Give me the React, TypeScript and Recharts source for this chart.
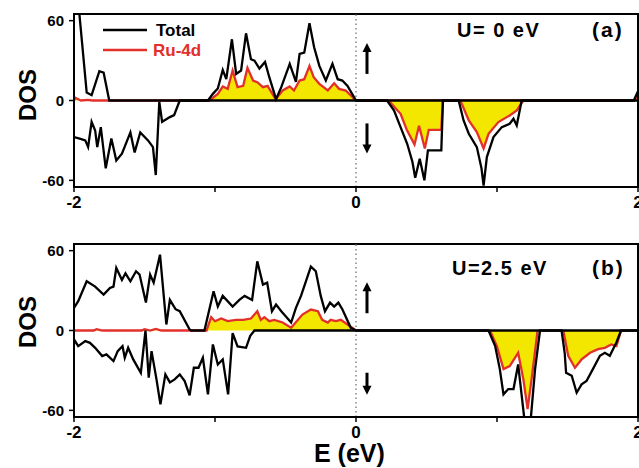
import * as React from 'react';
import {
  ComposedChart,
  Line,
  Area,
  XAxis,
  YAxis,
  ReferenceLine,
  ReferenceArea,
  ReferenceDot,
} from 'recharts';

type Pt = [number, number | null];

// panel (a), U = 0 eV
const totalUpA: Pt[] = [
  [-2.0, 80], [-1.975, 80], [-1.91, 6], [-1.875, 4], [-1.82, 22], [-1.79, 21], [-1.75, 0],
  [-1.05, 0], [-1.015, 5], [-0.98, 9], [-0.945, 23], [-0.92, 16], [-0.88, 46], [-0.85, 20],
  [-0.815, 22.5], [-0.78, 50.5], [-0.745, 31], [-0.72, 30], [-0.685, 24], [-0.645, 29],
  [-0.615, 17.5], [-0.567, 1], [-0.53, 10], [-0.47, 27.5], [-0.426, 14], [-0.4, 35],
  [-0.367, 36], [-0.33, 58], [-0.297, 40], [-0.26, 26], [-0.214, 15], [-0.167, 27.5],
  [-0.13, 16], [-0.097, 15], [-0.06, 11], [0, 0], [1.97, 0], [2.0, 7],
];
const ruUpA: Pt[] = [
  [-2.0, 0], [-1.99, 2], [-1.97, 1], [-1.95, 0], [-1.9, 0.5], [-1.87, 0], [-1.04, 0],
  [-0.98, 5], [-0.945, 10.5], [-0.91, 8.75], [-0.875, 22.5], [-0.84, 10], [-0.8, 11],
  [-0.77, 24.5], [-0.73, 15], [-0.7, 13.75], [-0.66, 10], [-0.627, 11], [-0.57, 1],
  [-0.52, 7.5], [-0.47, 10.5], [-0.44, 7.5], [-0.4, 15], [-0.367, 16], [-0.33, 26],
  [-0.3, 17.5], [-0.26, 12.5], [-0.2, 7.5], [-0.155, 13], [-0.12, 8.75], [-0.073, 7.5],
  [0, 0], [1.975, 0], [2.0, 5],
];
const totalDnA: Pt[] = [
  [-2.0, -27.5], [-1.96, -28.7], [-1.92, -30], [-1.9, -35], [-1.875, -16], [-1.85, -22.5],
  [-1.835, -35], [-1.81, -20], [-1.775, -51], [-1.735, -28.5], [-1.7, -45], [-1.66, -40],
  [-1.6, -24], [-1.57, -39], [-1.53, -24], [-1.475, -30], [-1.44, -35], [-1.42, -56],
  [-1.395, -1], [-1.375, -16], [-1.32, -12.5], [-1.29, -11], [-1.25, 0],
  [0.22, 0], [0.27, -7.5], [0.316, -20], [0.363, -32.5], [0.4, -46], [0.42, -58],
  [0.452, -43.75], [0.485, -60], [0.51, -37.5], [0.605, -37.5], [0.617, 0],
  [0.728, 0], [0.763, -15], [0.8, -25], [0.857, -35], [0.89, -51], [0.905, -64],
  [0.928, -42.5], [0.975, -27.5], [1.034, -20], [1.09, -17.5], [1.117, -13.75],
  [1.14, -18.75], [1.175, 0], [2.0, 0],
];
const ruDnA: Pt[] = [
  [0, 0], [0.23, 0], [0.316, -10], [0.36, -22], [0.415, -33], [0.447, -19], [0.488, -36],
  [0.516, -22], [0.605, -22], [0.615, 0], [0.74, 0], [0.8, -15], [0.857, -23.75],
  [0.905, -36], [0.94, -25], [1.01, -16.25], [1.09, -11.25], [1.14, -7.5], [1.187, 0],
  [1.975, 0],
];

// panel (b), U = 2.5 eV
const totalUpB: Pt[] = [
  [-2.0, 17], [-1.97, 22], [-1.91, 37], [-1.85, 33], [-1.79, 27], [-1.745, 32], [-1.72, 33],
  [-1.7, 47], [-1.66, 38], [-1.635, 43], [-1.6, 37], [-1.56, 44.5], [-1.535, 42],
  [-1.49, 21], [-1.46, 42], [-1.435, 36], [-1.39, 57], [-1.345, 4.5], [-1.32, 23],
  [-1.28, 16], [-1.25, 14.5], [-1.18, 0.75], [-1.17, 0], [-1.075, 0], [-1.01, 29.5],
  [-0.98, 18], [-0.945, 26], [-0.875, 18], [-0.827, 23], [-0.79, 26], [-0.737, 23],
  [-0.7, 52], [-0.66, 34.5], [-0.63, 36], [-0.596, 14.5], [-0.567, 19.5], [-0.53, 14.5],
  [-0.46, 6], [-0.426, 17], [-0.39, 26], [-0.32, 48], [-0.285, 44.5], [-0.25, 26],
  [-0.22, 14.5], [-0.184, 21], [-0.155, 18], [-0.125, 21], [-0.097, 16], [-0.037, 2],
  [0, 0], [2.0, 0],
];
const ruUpB: Pt[] = [
  [-2.0, 0], [-1.86, 0], [-1.84, 1], [-1.8, 0], [-1.52, 0], [-1.5, 1], [-1.46, 0],
  [-1.42, 1.2], [-1.38, 0], [-1.06, 0], [-1.027, 10], [-1.0, 7], [-0.956, 9], [-0.91, 7],
  [-0.85, 8], [-0.8, 8], [-0.745, 9], [-0.7, 14.5], [-0.675, 8], [-0.65, 10], [-0.615, 7],
  [-0.58, 8], [-0.52, 6], [-0.46, 2], [-0.38, 12], [-0.32, 15.75], [-0.27, 14.5],
  [-0.24, 8], [-0.2, 6], [-0.18, 8], [-0.143, 7], [-0.108, 8], [-0.06, 4.5], [0, 0],
];
const totalDnB: Pt[] = [
  [-2.0, -6.75], [-1.97, -11.75], [-1.92, -8], [-1.887, -9.25], [-1.85, -13], [-1.8, -19.25],
  [-1.77, -18], [-1.72, -23], [-1.69, -15.5], [-1.656, -11.75], [-1.64, -20.5],
  [-1.616, -13], [-1.58, -21.75], [-1.526, -31.75], [-1.493, 0], [-1.47, -35.5],
  [-1.45, -15.5], [-1.415, -36.75], [-1.387, -55.5], [-1.352, -33], [-1.32, -39],
  [-1.286, -36.75], [-1.25, -33], [-1.215, -38], [-1.18, -48.75], [-1.15, -28],
  [-1.117, -28], [-1.086, -20.5], [-1.05, -48], [-1.015, -10.5], [-0.98, -25.5],
  [-0.945, -21.75], [-0.907, -48], [-0.875, -2], [-0.84, -12], [-0.78, -13], [-0.75, -4],
  [-0.72, 0], [0.94, 0], [0.987, -11.75], [1.02, -29], [1.046, -48], [1.08, -44],
  [1.117, -44], [1.15, -25.5], [1.2, -72], [1.235, -72], [1.27, -29], [1.305, 0],
  [1.458, 0], [1.48, -16.75], [1.49, -31.75], [1.53, -34], [1.565, -46.75], [1.6, -40.5],
  [1.635, -38], [1.68, -29], [1.73, -19], [1.765, -16.75], [1.8, -19], [1.823, -14],
  [1.847, -9], [1.88, 0], [2.0, 0],
];
const ruDnB: Pt[] = [
  [0.95, 0], [0.999, -11.75], [1.046, -29], [1.09, -26.75], [1.15, -16.75], [1.187, -36.75],
  [1.217, -59], [1.245, -36.75], [1.288, 0], [1.38, null], [1.47, 0], [1.505, -19],
  [1.553, -28], [1.6, -21.75], [1.66, -16.75], [1.717, -14], [1.765, -13], [1.81, -10.5],
  [1.847, -11.75], [1.88, 0],
];

const xTicks = [-2, -1, 0, 1, 2];
const yTicks = [-60, 0, 60];

const FONT = 'Arial, "Liberation Sans", sans-serif';
const RED = '#e3302a';
const YELLOW = '#f3e700';

const toPts = (a: Pt[]) => a.map(([e, v]) => ({ e, v }));

function Arrow(props: any) {
  const { cx, cy, dir, len } = props;
  const h = len / 2;
  const s = dir === 'up' ? -1 : 1;
  return (
    <g>
      <rect x={cx - 1.5} y={Math.min(cy - s * h, cy + s * (h - 8))} width={3} height={len - 7} fill="#000" />
      <polygon
        points={`${cx},${cy + s * h} ${cx - 4.5},${cy + s * (h - 9)} ${cx + 4.5},${cy + s * (h - 9)}`}
        fill="#000"
      />
    </g>
  );
}

interface PanelProps {
  height: number;
  margin: { top: number; right: number; bottom: number; left: number };
  totalUp: Pt[];
  totalDn: Pt[];
  ruUp: Pt[];
  ruDn: Pt[];
  arrows: { y: number; dir: string; len: number }[];
  children?: React.ReactNode;
}

function Panel({ height, margin, totalUp, totalDn, ruUp, ruDn, arrows, children }: PanelProps) {
  return (
    <ComposedChart width={639} height={height} margin={margin}>
      <XAxis
        type="number"
        dataKey="e"
        domain={[-2, 2]}
        ticks={xTicks}
        interval={0}
        allowDataOverflow
        tickFormatter={(v: number) => (v === -1 || v === 1 ? '' : String(v))}
        axisLine={{ stroke: '#000', strokeWidth: 2 }}
        tickLine={{ stroke: '#000', strokeWidth: 1.5 }}
        tickSize={5}
        tickMargin={4}
        height={25}
        tick={{ fontSize: 17, fontWeight: 'bold', fill: '#000', fontFamily: FONT }}
      />
      <YAxis
        type="number"
        domain={[-65, 65]}
        ticks={yTicks}
        interval={0}
        allowDataOverflow
        axisLine={{ stroke: '#000', strokeWidth: 2 }}
        tickLine={{ stroke: '#000', strokeWidth: 1.5 }}
        tickSize={5}
        tickMargin={5}
        width={50}
        tick={{ fontSize: 15, fontWeight: 'bold', fill: '#000', fontFamily: FONT }}
      />
      <ReferenceLine x={0} stroke="#888" strokeWidth={1.5} strokeDasharray="1.5 3" />
      <Line data={toPts(totalUp)} dataKey="v" type="linear" stroke="#000" strokeWidth={2.3}
        dot={false} isAnimationActive={false} />
      <Line data={toPts(totalDn)} dataKey="v" type="linear" stroke="#000" strokeWidth={2.3}
        dot={false} isAnimationActive={false} />
      <Area data={toPts(ruUp)} dataKey="v" type="linear" stroke={RED} strokeWidth={2.3}
        fill={YELLOW} fillOpacity={1} baseValue={0} dot={false} isAnimationActive={false} />
      <Area data={toPts(ruDn)} dataKey="v" type="linear" stroke={RED} strokeWidth={2.3}
        fill={YELLOW} fillOpacity={1} baseValue={0} dot={false} isAnimationActive={false} />
      <ReferenceArea x1={-2} x2={2} y1={-65} y2={65} fill="none" fillOpacity={0}
        stroke="#000" strokeWidth={2} />
      {arrows.map((a, i) => (
        <ReferenceDot key={i} x={0.078} y={a.y} r={0}
          shape={(p: any) => <Arrow cx={p.cx} cy={p.cy} dir={a.dir} len={a.len} />} />
      ))}
      {children}
    </ComposedChart>
  );
}

const bold = { fontFamily: FONT, fontWeight: 'bold' as const };

export default function App() {
  return (
    <div style={{ position: 'absolute', left: 0, top: 0, width: 639, height: 468, background: '#fff' }}>
      <Panel
        height={220}
        margin={{ top: 14, right: 1, bottom: 8, left: 24 }}
        totalUp={totalUpA}
        totalDn={totalDnA}
        ruUp={ruUpA}
        ruDn={ruDnA}
        arrows={[{ y: 32, dir: 'up', len: 30 }, { y: -28.5, dir: 'down', len: 30 }]}
      >
        <text x={27} y={95} transform="rotate(-90 27 95)" textAnchor="middle"
          dominantBaseline="central" fontSize={24} {...bold}>DOS</text>
        <line x1={103} x2={147} y1={30} y2={30} stroke="#000" strokeWidth={2.5} />
        <text x={156} y={36} fontSize={17} fill="#000" {...bold}>Total</text>
        <line x1={103} x2={147} y1={50} y2={50} stroke={RED} strokeWidth={2.5} />
        <text x={153} y={56} fontSize={17} fill={RED} {...bold}>Ru-4d</text>
        <text x={457} y={37} fontSize={20} letterSpacing={1.5} {...bold}>U= 0 eV</text>
        <text x={592} y={37} fontSize={21} letterSpacing={2} {...bold}>(a)</text>
      </Panel>
      <div style={{ position: 'absolute', left: 0, top: 220 }}>
        <Panel
          height={248}
          margin={{ top: 24, right: 1, bottom: 26, left: 24 }}
          totalUp={totalUpB}
          totalDn={totalDnB}
          ruUp={ruUpB}
          ruDn={ruDnB}
          arrows={[{ y: 25, dir: 'up', len: 30 }, { y: -40, dir: 'down', len: 22 }]}
        >
          <text x={27} y={102} transform="rotate(-90 27 102)" textAnchor="middle"
            dominantBaseline="central" fontSize={24} {...bold}>DOS</text>
          <text x={452} y={55} fontSize={20} letterSpacing={1.5} {...bold}>U=2.5 eV</text>
          <text x={592} y={55} fontSize={21} letterSpacing={2} {...bold}>(b)</text>
          <text x={314} y={242} fontSize={25} {...bold}>E (eV)</text>
        </Panel>
      </div>
    </div>
  );
}
